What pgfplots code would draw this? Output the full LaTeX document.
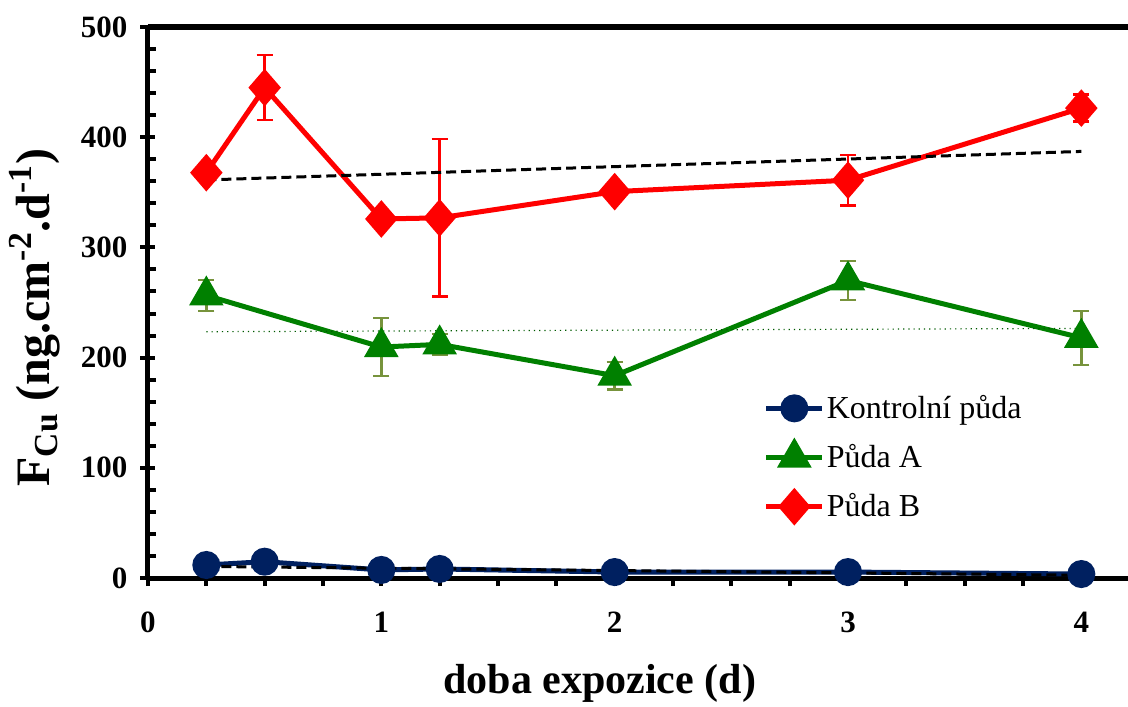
\documentclass[border=0pt]{standalone}
\usepackage{fontspec}
\setmainfont{Liberation Serif}
\usepackage{pgfplots}
\pgfplotsset{compat=1.18}
\definecolor{cnavy}{HTML}{002060}
\definecolor{cgreen}{HTML}{008000}
\definecolor{cred}{HTML}{FF0000}
\definecolor{colive}{HTML}{77933C}
\begin{document}
\begin{tikzpicture}
\begin{axis}[
  scale only axis, width=490pt, height=275.5pt,
  xmin=0, xmax=4.2, ymin=0, ymax=500,
  axis x line*=bottom, axis y line*=left,
  axis line style={line width=2.5pt},
  xtick={0,1,2,3,4}, minor xtick={0,0.25,...,4.01},
  ytick={0,100,...,500}, minor y tick num=4,
  xtick align=outside, ytick align=center,
  major tick length=7.5pt, minor tick length=4pt,
  major x tick style={draw=none},
  minor y tick style={xshift=2pt},
  tick style={line width=2pt, black},
  /pgf/number format/assume math mode=true,
  tick label style={font=\bfseries\fontsize{15.5}{18}\selectfont},
  yticklabel style={xshift=-3pt},
  xticklabel style={yshift=-6pt},
  xlabel={doba expozice (d)},
  ylabel={F\textsubscript{Cu} (ng.cm\textsuperscript{-2}.d\textsuperscript{-1})},
  xlabel style={at={(rel axis cs:0.461,-0.2105)}, anchor=base, font=\bfseries\fontsize{21}{25}\selectfont},
  ylabel style={at={(rel axis cs:-0.1153,0.473)}, anchor=center, font=\bfseries\fontsize{24}{28}\selectfont},
  legend style={at={(rel axis cs:0.628,0.336)}, anchor=north west, draw=none, fill=none,
    inner sep=0pt, row sep=9.5pt, nodes={inner sep=1pt}, font=\fontsize{16}{19}\selectfont},
  legend cell align=left,
  legend image code/.code={\draw[mark repeat=2,mark phase=2] plot coordinates {(0pt,0pt) (14pt,0pt) (28pt,0pt)};},
  clip=false,
]
\addplot[cnavy, line width=2.5pt, mark=*, mark size=5.75pt, mark options={solid}]
  coordinates {(0.25,11.8) (0.5,14.8) (1,7.3) (1.25,8.2) (2,5.4) (3,5.4) (4,3.6)};
\addlegendentry{Kontrolní půda}
\addplot[cgreen, line width=2.5pt, mark=triangle*, mark size=7.5pt, mark options={solid},
  error bars/.cd, y dir=both, y explicit,
  error bar style={colive, line width=1.2pt},
  error mark options={rotate=90, colive, mark size=4pt, line width=1.2pt}]
  coordinates {(0.25,256.4) +- (0,14) (1,209.6) +- (0,26.4) (1.25,212) +- (0,9.6) (2,183.6) +- (0,12.4) (3,270) +- (0,17.7) (4,218) +- (0,24.5)};
\addlegendentry{Půda A}
\addplot[cred, line width=2.5pt, mark=diamond*, mark size=7.5pt, mark options={solid, xscale=1.15},
  error bars/.cd, y dir=both, y explicit,
  error bar style={cred, line width=1.2pt},
  error mark options={rotate=90, cred, mark size=4pt, line width=1.2pt}]
  coordinates {(0.25,367.8) +- (0,5) (0.5,445) +- (0,29.5) (1,325.8) +- (0,3) (1.25,326.8) +- (0,71.5) (2,350.6) +- (0,3) (3,361) +- (0,23) (4,426.4) +- (0,12.3)};
\addlegendentry{Půda B}
\addplot[black, line width=1.5pt, dash pattern=on 5pt off 2.5pt, forget plot]
  coordinates {(0.25,10.5) (4,2.5)};
\addplot[cgreen!70!black, line width=0.6pt, dotted, forget plot]
  coordinates {(0.25,223.5) (4,226.5)};
\addplot[black, line width=1.5pt, dash pattern=on 5pt off 2.5pt, forget plot]
  coordinates {(0.25,361.2) (4,387.1)};
\draw[line width=3pt] (rel axis cs:0,1) -- (rel axis cs:1,1);
\coordinate (bbsw) at (rel axis cs:0,0);
\coordinate (bbne) at (rel axis cs:1,1);
\end{axis}
\pgfresetboundingbox
\path ([xshift=-74pt,yshift=-64pt]bbsw) rectangle ([yshift=13.5pt]bbne);
\end{tikzpicture}
\end{document}
